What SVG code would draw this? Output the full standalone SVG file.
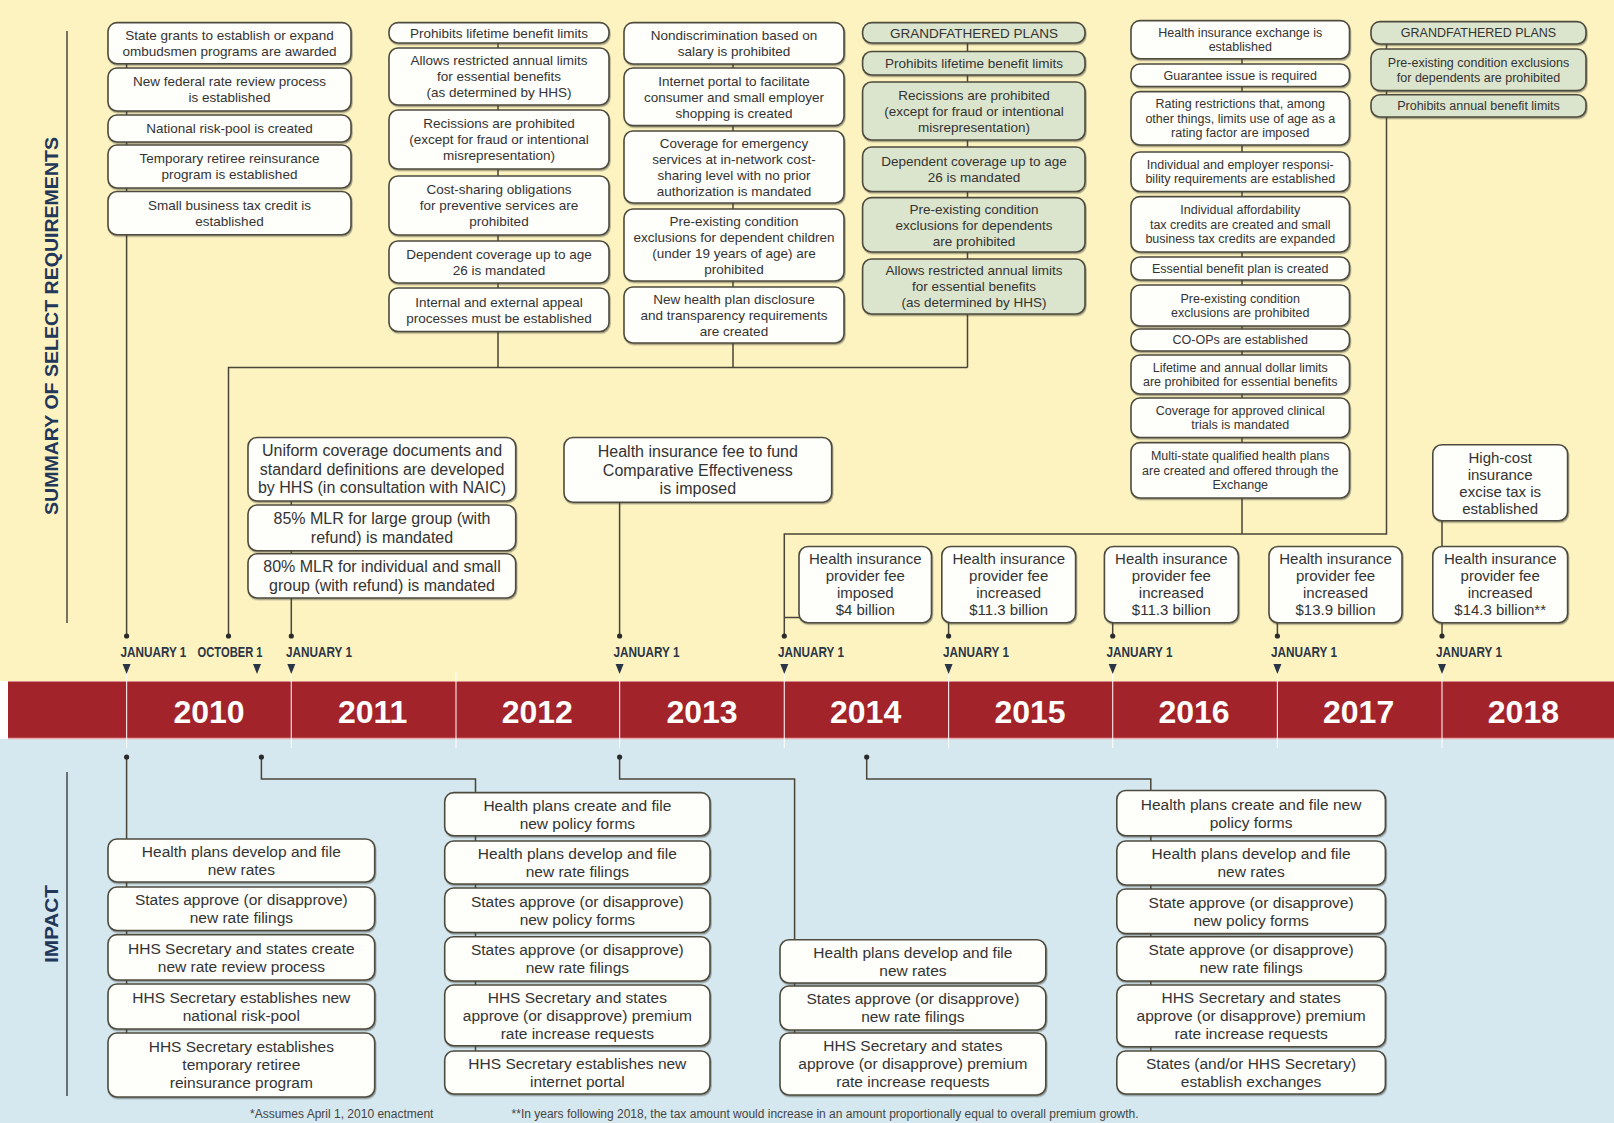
<svg xmlns="http://www.w3.org/2000/svg" width="1614" height="1123" viewBox="0 0 1614 1123">
<defs>
<filter id="sh" x="-5%" y="-10%" width="110%" height="125%">
<feDropShadow dx="0.8" dy="1.4" stdDeviation="0.7" flood-color="#3a3a30" flood-opacity="0.45"/>
</filter>
<style>
.bx{fill:#fefefb;stroke:#4e4b3e;stroke-width:1.6;filter:url(#sh)}
.gf{fill:#dbe4cc;stroke:#4e4b3e;stroke-width:1.6;filter:url(#sh)}
.t{font-family:"Liberation Sans Narrow","Liberation Sans",Arial,sans-serif;fill:#333333;text-anchor:middle}
.s13{font-size:13.5px}
.s12{font-size:12.5px}
.s16{font-size:16px}
.s15{font-size:15px}
.s155{font-size:15.5px}
.cn{fill:none;stroke:#4a4537;stroke-width:1.5}
.dot{fill:#2b2b2b}
.lbl{font-family:"Liberation Sans Narrow","Liberation Sans",Arial,sans-serif;font-weight:bold;font-size:14px;fill:#2b3645}
.arr{fill:#2a3648}
.yr{font-family:"Liberation Sans",Arial,sans-serif;font-weight:bold;font-size:32px;fill:#ffffff;text-anchor:middle}
.vt{font-family:"Liberation Sans",Arial,sans-serif;font-weight:bold;font-size:19px;fill:#22375a;text-anchor:middle}
.div{stroke:#ffffff;stroke-width:1.2;opacity:0.85}
.fn{font-family:"Liberation Sans Narrow","Liberation Sans",Arial,sans-serif;font-size:12px;fill:#444}
</style>
</defs>
<rect x="0" y="0" width="1614" height="681" fill="#fcf3c1"/>
<rect x="0" y="739" width="1614" height="384" fill="#d5e7ef"/>
<rect x="8" y="681" width="1606" height="58" fill="#a3232b"/>
<line x1="8" y1="681.5" x2="1614" y2="681.5" stroke="#d98a8a" stroke-width="1"/>
<line x1="8" y1="738.5" x2="1614" y2="738.5" stroke="#e9a9ad" stroke-width="1.5"/>
<g id="side-labels">
<line x1="67" y1="31" x2="67" y2="623" stroke="#2f2f2f" stroke-width="1.3"/>
<line x1="67" y1="772" x2="67" y2="1096" stroke="#2f2f2f" stroke-width="1.3"/>
<text class="vt" transform="translate(58,326) rotate(-90)" textLength="378" lengthAdjust="spacingAndGlyphs">SUMMARY OF SELECT REQUIREMENTS</text>
<text class="vt" transform="translate(58,924) rotate(-90)" textLength="78" lengthAdjust="spacingAndGlyphs">IMPACT</text>
</g>
<g id="year-band">
<line class="div" x1="126.6" y1="672" x2="126.6" y2="748"/>
<line class="div" x1="291.3" y1="672" x2="291.3" y2="748"/>
<line class="div" x1="456" y1="672" x2="456" y2="748"/>
<line class="div" x1="619.6" y1="672" x2="619.6" y2="748"/>
<line class="div" x1="784.3" y1="672" x2="784.3" y2="748"/>
<line class="div" x1="948.6" y1="672" x2="948.6" y2="748"/>
<line class="div" x1="1112.7" y1="672" x2="1112.7" y2="748"/>
<line class="div" x1="1277.4" y1="672" x2="1277.4" y2="748"/>
<line class="div" x1="1442" y1="672" x2="1442" y2="748"/>
<text class="yr" x="209" y="723">2010</text>
<text class="yr" x="372.6" y="723">2011</text>
<text class="yr" x="537.3" y="723">2012</text>
<text class="yr" x="702" y="723">2013</text>
<text class="yr" x="865.6" y="723">2014</text>
<text class="yr" x="1030" y="723">2015</text>
<text class="yr" x="1194" y="723">2016</text>
<text class="yr" x="1358.6" y="723">2017</text>
<text class="yr" x="1523.4" y="723">2018</text>
</g>
<g id="timeline-markers">
<text class="lbl" x="120.4" y="657" textLength="66" lengthAdjust="spacingAndGlyphs">JANUARY 1</text>
<text class="lbl" x="197.6" y="657" textLength="65" lengthAdjust="spacingAndGlyphs">OCTOBER 1</text>
<text class="lbl" x="286" y="657" textLength="66" lengthAdjust="spacingAndGlyphs">JANUARY 1</text>
<text class="lbl" x="613.5" y="657" textLength="66" lengthAdjust="spacingAndGlyphs">JANUARY 1</text>
<text class="lbl" x="778" y="657" textLength="66" lengthAdjust="spacingAndGlyphs">JANUARY 1</text>
<text class="lbl" x="943" y="657" textLength="66" lengthAdjust="spacingAndGlyphs">JANUARY 1</text>
<text class="lbl" x="1106.5" y="657" textLength="66" lengthAdjust="spacingAndGlyphs">JANUARY 1</text>
<text class="lbl" x="1271" y="657" textLength="66" lengthAdjust="spacingAndGlyphs">JANUARY 1</text>
<text class="lbl" x="1436" y="657" textLength="66" lengthAdjust="spacingAndGlyphs">JANUARY 1</text>
<polygon class="arr" points="122.6,664 130.6,664 126.6,674"/>
<polygon class="arr" points="253,664 261,664 257,674"/>
<polygon class="arr" points="287.3,664 295.3,664 291.3,674"/>
<polygon class="arr" points="615.6,664 623.6,664 619.6,674"/>
<polygon class="arr" points="780.3,664 788.3,664 784.3,674"/>
<polygon class="arr" points="944.6,664 952.6,664 948.6,674"/>
<polygon class="arr" points="1108.7,664 1116.7,664 1112.7,674"/>
<polygon class="arr" points="1273.4,664 1281.4,664 1277.4,674"/>
<polygon class="arr" points="1438,664 1446,664 1442,674"/>
</g>
<g id="connectors">
<path class="cn" d="M126.6,60 V636"/>
<path class="cn" d="M498,40 V367.5 M733,60 V367.5 M967.5,40 V367.5 M967.5,367.5 H228.5 V636"/>
<path class="cn" d="M291.3,500 V636"/>
<path class="cn" d="M619.6,502 V636"/>
<path class="cn" d="M1242,56 V534 M1386.5,42 V534 H784.3 V636 M784.3,617.6 H799"/>
<path class="cn" d="M948.6,622.7 V636 M1112.7,622.7 V636 M1277.4,622.7 V636 M1442,622.7 V636 M1442,520.8 V546.5"/>
<path class="cn" d="M126.6,757 V1040"/>
<path class="cn" d="M261.4,757 V779 H475.5 V1060"/>
<path class="cn" d="M619.6,757 V779 H794.6 V1040"/>
<path class="cn" d="M866.7,757 V779 H1150.8 V1060"/>
<circle class="dot" cx="126.6" cy="636" r="2.6"/>
<circle class="dot" cx="228.5" cy="636" r="2.6"/>
<circle class="dot" cx="291.3" cy="636" r="2.6"/>
<circle class="dot" cx="619.6" cy="636" r="2.6"/>
<circle class="dot" cx="784.3" cy="636" r="2.6"/>
<circle class="dot" cx="948.6" cy="636" r="2.6"/>
<circle class="dot" cx="1112.7" cy="636" r="2.6"/>
<circle class="dot" cx="1277.4" cy="636" r="2.6"/>
<circle class="dot" cx="1442" cy="636" r="2.6"/>
<circle class="dot" cx="126.6" cy="757" r="2.6"/>
<circle class="dot" cx="261.4" cy="757" r="2.6"/>
<circle class="dot" cx="619.6" cy="757" r="2.6"/>
<circle class="dot" cx="866.7" cy="757" r="2.6"/>
</g>
<g id="col-2010-jan">
<g id="a1"><rect class="bx" x="108" y="22.6" width="243" height="41.2" rx="9"/><text class="t s13"><tspan x="229.5" y="39.9">State grants to establish or expand</tspan><tspan x="229.5" y="55.9">ombudsmen programs are awarded</tspan></text></g>
<g id="a2"><rect class="bx" x="108" y="68" width="243" height="43" rx="9"/><text class="t s13"><tspan x="229.5" y="86.2">New federal rate review process</tspan><tspan x="229.5" y="102.2">is established</tspan></text></g>
<g id="a3"><rect class="bx" x="108" y="115" width="243" height="27" rx="9"/><text class="t s13"><tspan x="229.5" y="133.2">National risk-pool is created</tspan></text></g>
<g id="a4"><rect class="bx" x="108" y="145" width="243" height="43" rx="9"/><text class="t s13"><tspan x="229.5" y="163.2">Temporary retiree reinsurance</tspan><tspan x="229.5" y="179.2">program is established</tspan></text></g>
<g id="a5"><rect class="bx" x="108" y="191.5" width="243" height="43.2" rx="9"/><text class="t s13"><tspan x="229.5" y="209.8">Small business tax credit is</tspan><tspan x="229.5" y="225.8">established</tspan></text></g>
</g>
<g id="col-2010-oct">
<g id="b1"><rect class="bx" x="389" y="22.6" width="220" height="20.4" rx="9"/><text class="t s13"><tspan x="499" y="37.5">Prohibits lifetime benefit limits</tspan></text></g>
<g id="b2"><rect class="bx" x="389" y="48" width="220" height="57" rx="9"/><text class="t s13"><tspan x="499" y="65.2">Allows restricted annual limits</tspan><tspan x="499" y="81.2">for essential benefits</tspan><tspan x="499" y="97.2">(as determined by HHS)</tspan></text></g>
<g id="b3"><rect class="bx" x="389" y="110" width="220" height="59" rx="9"/><text class="t s13"><tspan x="499" y="128.2">Recissions are prohibited</tspan><tspan x="499" y="144.2">(except for fraud or intentional</tspan><tspan x="499" y="160.2">misrepresentation)</tspan></text></g>
<g id="b4"><rect class="bx" x="389" y="176" width="220" height="59" rx="9"/><text class="t s13"><tspan x="499" y="194.2">Cost-sharing obligations</tspan><tspan x="499" y="210.2">for preventive services are</tspan><tspan x="499" y="226.2">prohibited</tspan></text></g>
<g id="b5"><rect class="bx" x="389" y="241" width="220" height="42" rx="9"/><text class="t s13"><tspan x="499" y="258.7">Dependent coverage up to age</tspan><tspan x="499" y="274.7">26 is mandated</tspan></text></g>
<g id="b6"><rect class="bx" x="389" y="288" width="220" height="43.5" rx="9"/><text class="t s13"><tspan x="499" y="306.5">Internal and external appeal</tspan><tspan x="499" y="322.5">processes must be established</tspan></text></g>
</g>
<g id="col-2010-oct-b">
<g id="c1"><rect class="bx" x="624" y="22.6" width="220" height="41.4" rx="9"/><text class="t s13"><tspan x="734" y="40">Nondiscrimination based on</tspan><tspan x="734" y="56">salary is prohibited</tspan></text></g>
<g id="c2"><rect class="bx" x="624" y="68" width="220" height="57.6" rx="9"/><text class="t s13"><tspan x="734" y="85.5">Internet portal to facilitate</tspan><tspan x="734" y="101.5">consumer and small employer</tspan><tspan x="734" y="117.5">shopping is created</tspan></text></g>
<g id="c3"><rect class="bx" x="624" y="131" width="220" height="72" rx="9"/><text class="t s13"><tspan x="734" y="147.7">Coverage for emergency</tspan><tspan x="734" y="163.7">services at in-network cost-</tspan><tspan x="734" y="179.7">sharing level with no prior</tspan><tspan x="734" y="195.7">authorization is mandated</tspan></text></g>
<g id="c4"><rect class="bx" x="624" y="209" width="220" height="72" rx="9"/><text class="t s13"><tspan x="734" y="225.7">Pre-existing condition</tspan><tspan x="734" y="241.7">exclusions for dependent children</tspan><tspan x="734" y="257.7">(under 19 years of age) are</tspan><tspan x="734" y="273.7">prohibited</tspan></text></g>
<g id="c5"><rect class="bx" x="624" y="287" width="220" height="56" rx="9"/><text class="t s13"><tspan x="734" y="303.7">New health plan disclosure</tspan><tspan x="734" y="319.7">and transparency requirements</tspan><tspan x="734" y="335.7">are created</tspan></text></g>
</g>
<g id="col-2010-grandfathered">
<g id="d1"><rect class="gf" x="862.6" y="22.6" width="222.4" height="20.4" rx="9"/><text class="t s13"><tspan x="974" y="37.5">GRANDFATHERED PLANS</tspan></text></g>
<g id="d2"><rect class="gf" x="862.6" y="51.5" width="222.4" height="23.5" rx="9"/><text class="t s13"><tspan x="974" y="68">Prohibits lifetime benefit limits</tspan></text></g>
<g id="d3"><rect class="gf" x="862.6" y="82" width="222.4" height="58" rx="9"/><text class="t s13"><tspan x="974" y="99.7">Recissions are prohibited</tspan><tspan x="974" y="115.7">(except for fraud or intentional</tspan><tspan x="974" y="131.7">misrepresentation)</tspan></text></g>
<g id="d4"><rect class="gf" x="862.6" y="147" width="222.4" height="44.5" rx="9"/><text class="t s13"><tspan x="974" y="166">Dependent coverage up to age</tspan><tspan x="974" y="182">26 is mandated</tspan></text></g>
<g id="d5"><rect class="gf" x="862.6" y="197.6" width="222.4" height="54.4" rx="9"/><text class="t s13"><tspan x="974" y="213.5">Pre-existing condition</tspan><tspan x="974" y="229.5">exclusions for dependents</tspan><tspan x="974" y="245.5">are prohibited</tspan></text></g>
<g id="d6"><rect class="gf" x="862.6" y="259" width="222.4" height="55" rx="9"/><text class="t s13"><tspan x="974" y="275.2">Allows restricted annual limits</tspan><tspan x="974" y="291.2">for essential benefits</tspan><tspan x="974" y="307.2">(as determined by HHS)</tspan></text></g>
</g>
<g id="col-2014">
<g id="e1"><rect class="bx" x="1131" y="20.6" width="218.5" height="38.1" rx="9"/><text class="t s12"><tspan x="1240.25" y="36.8">Health insurance exchange is</tspan><tspan x="1240.25" y="51.3">established</tspan></text></g>
<g id="e2"><rect class="bx" x="1131" y="64" width="218.5" height="22.5" rx="9"/><text class="t s12"><tspan x="1240.25" y="79.65">Guarantee issue is required</tspan></text></g>
<g id="e3"><rect class="bx" x="1131" y="91.6" width="218.5" height="53.4" rx="9"/><text class="t s12"><tspan x="1240.25" y="108.2">Rating restrictions that, among</tspan><tspan x="1240.25" y="122.7">other things, limits use of age as a</tspan><tspan x="1240.25" y="137.2">rating factor are imposed</tspan></text></g>
<g id="e4"><rect class="bx" x="1131" y="152" width="218.5" height="39.5" rx="9"/><text class="t s12"><tspan x="1240.25" y="168.9">Individual and employer responsi-</tspan><tspan x="1240.25" y="183.4">bility requirements are established</tspan></text></g>
<g id="e5"><rect class="bx" x="1131" y="196.6" width="218.5" height="55.4" rx="9"/><text class="t s12"><tspan x="1240.25" y="214.2">Individual affordability</tspan><tspan x="1240.25" y="228.7">tax credits are created and small</tspan><tspan x="1240.25" y="243.2">business tax credits are expanded</tspan></text></g>
<g id="e6"><rect class="bx" x="1131" y="257" width="218.5" height="23" rx="9"/><text class="t s12"><tspan x="1240.25" y="272.9">Essential benefit plan is created</tspan></text></g>
<g id="e7"><rect class="bx" x="1131" y="285" width="218.5" height="41" rx="9"/><text class="t s12"><tspan x="1240.25" y="302.65">Pre-existing condition</tspan><tspan x="1240.25" y="317.15">exclusions are prohibited</tspan></text></g>
<g id="e8"><rect class="bx" x="1131" y="329" width="218.5" height="22" rx="9"/><text class="t s12"><tspan x="1240.25" y="344.4">CO-OPs are established</tspan></text></g>
<g id="e9"><rect class="bx" x="1131" y="355" width="218.5" height="39" rx="9"/><text class="t s12"><tspan x="1240.25" y="371.65">Lifetime and annual dollar limits</tspan><tspan x="1240.25" y="386.15">are prohibited for essential benefits</tspan></text></g>
<g id="e10"><rect class="bx" x="1131" y="398" width="218.5" height="39.5" rx="9"/><text class="t s12"><tspan x="1240.25" y="414.9">Coverage for approved clinical</tspan><tspan x="1240.25" y="429.4">trials is mandated</tspan></text></g>
<g id="e11"><rect class="bx" x="1131" y="442.6" width="218.5" height="55.4" rx="9"/><text class="t s12"><tspan x="1240.25" y="460.2">Multi-state qualified health plans</tspan><tspan x="1240.25" y="474.7">are created and offered through the</tspan><tspan x="1240.25" y="489.2">Exchange</tspan></text></g>
</g>
<g id="col-2014-grandfathered">
<g id="f1"><rect class="gf" x="1371" y="21.6" width="215" height="22.4" rx="9"/><text class="t s12"><tspan x="1478.5" y="37.2">GRANDFATHERED PLANS</tspan></text></g>
<g id="f2"><rect class="gf" x="1371" y="49" width="215" height="41.6" rx="9"/><text class="t s12"><tspan x="1478.5" y="67">Pre-existing condition exclusions</tspan><tspan x="1478.5" y="81.5">for dependents are prohibited</tspan></text></g>
<g id="f3"><rect class="gf" x="1371" y="94.7" width="215" height="22.3" rx="9"/><text class="t s12"><tspan x="1478.5" y="110.25">Prohibits annual benefit limits</tspan></text></g>
</g>
<g id="col-2011">
<g id="i1"><rect class="bx" x="248" y="437.5" width="267.7" height="63.5" rx="9"/><text class="t s16"><tspan x="382" y="456.35">Uniform coverage documents and</tspan><tspan x="382" y="474.85">standard definitions are developed</tspan><tspan x="382" y="493.35">by HHS (in consultation with NAIC)</tspan></text></g>
<g id="i2"><rect class="bx" x="248" y="505" width="267.7" height="45.7" rx="9"/><text class="t s16"><tspan x="382" y="524.2">85% MLR for large group (with</tspan><tspan x="382" y="542.7">refund) is mandated</tspan></text></g>
<g id="i3"><rect class="bx" x="248" y="553.8" width="267.7" height="44.2" rx="9"/><text class="t s16"><tspan x="382" y="572.25">80% MLR for individual and small</tspan><tspan x="382" y="590.75">group (with refund) is mandated</tspan></text></g>
</g>
<g id="col-2013">
<g id="j1"><rect class="bx" x="564" y="437.5" width="267.7" height="64.8" rx="9"/><text class="t s16"><tspan x="697.85" y="457">Health insurance fee to fund</tspan><tspan x="697.85" y="475.5">Comparative Effectiveness</tspan><tspan x="697.85" y="494">is imposed</tspan></text></g>
</g>
<g id="provider-fees">
<g id="g1"><rect class="bx" x="799" y="546.5" width="132.5" height="76.2" rx="9"/><text class="t s15"><tspan x="865.25" y="564.35">Health insurance</tspan><tspan x="865.25" y="581.35">provider fee</tspan><tspan x="865.25" y="598.35">imposed</tspan><tspan x="865.25" y="615.35">$4 billion</tspan></text></g>
<g id="g2"><rect class="bx" x="941.8" y="546.5" width="133.8" height="76.2" rx="9"/><text class="t s15"><tspan x="1008.7" y="564.35">Health insurance</tspan><tspan x="1008.7" y="581.35">provider fee</tspan><tspan x="1008.7" y="598.35">increased</tspan><tspan x="1008.7" y="615.35">$11.3 billion</tspan></text></g>
<g id="g3"><rect class="bx" x="1104.4" y="546.5" width="133.9" height="76.2" rx="9"/><text class="t s15"><tspan x="1171.35" y="564.35">Health insurance</tspan><tspan x="1171.35" y="581.35">provider fee</tspan><tspan x="1171.35" y="598.35">increased</tspan><tspan x="1171.35" y="615.35">$11.3 billion</tspan></text></g>
<g id="g4"><rect class="bx" x="1269" y="546.5" width="133" height="76.2" rx="9"/><text class="t s15"><tspan x="1335.5" y="564.35">Health insurance</tspan><tspan x="1335.5" y="581.35">provider fee</tspan><tspan x="1335.5" y="598.35">increased</tspan><tspan x="1335.5" y="615.35">$13.9 billion</tspan></text></g>
<g id="g5"><rect class="bx" x="1432.8" y="546.5" width="134.8" height="76.2" rx="9"/><text class="t s15"><tspan x="1500.2" y="564.35">Health insurance</tspan><tspan x="1500.2" y="581.35">provider fee</tspan><tspan x="1500.2" y="598.35">increased</tspan><tspan x="1500.2" y="615.35">$14.3 billion**</tspan></text></g>
<g id="h1"><rect class="bx" x="1432.8" y="444.7" width="134.8" height="76.1" rx="9"/><text class="t s15"><tspan x="1500.2" y="462.5">High-cost</tspan><tspan x="1500.2" y="479.5">insurance</tspan><tspan x="1500.2" y="496.5">excise tax is</tspan><tspan x="1500.2" y="513.5">established</tspan></text></g>
</g>
<g id="impact-2010-jan">
<g id="k1"><rect class="bx" x="108" y="839" width="266.7" height="43" rx="9"/><text class="t s155"><tspan x="241.35" y="856.9">Health plans develop and file</tspan><tspan x="241.35" y="874.9">new rates</tspan></text></g>
<g id="k2"><rect class="bx" x="108" y="887" width="266.7" height="43.5" rx="9"/><text class="t s155"><tspan x="241.35" y="905.15">States approve (or disapprove)</tspan><tspan x="241.35" y="923.15">new rate filings</tspan></text></g>
<g id="k3"><rect class="bx" x="108" y="934.6" width="266.7" height="45.4" rx="9"/><text class="t s155"><tspan x="241.35" y="953.7">HHS Secretary and states create</tspan><tspan x="241.35" y="971.7">new rate review process</tspan></text></g>
<g id="k4"><rect class="bx" x="108" y="984" width="266.7" height="45" rx="9"/><text class="t s155"><tspan x="241.35" y="1002.9">HHS Secretary establishes new</tspan><tspan x="241.35" y="1020.9">national risk-pool</tspan></text></g>
<g id="k5"><rect class="bx" x="108" y="1033" width="266.7" height="64" rx="9"/><text class="t s155"><tspan x="241.35" y="1052.4">HHS Secretary establishes</tspan><tspan x="241.35" y="1070.4">temporary retiree</tspan><tspan x="241.35" y="1088.4">reinsurance program</tspan></text></g>
</g>
<g id="impact-2010-oct">
<g id="l1"><rect class="bx" x="444.7" y="792.6" width="265.3" height="43.2" rx="9"/><text class="t s155"><tspan x="577.35" y="810.6">Health plans create and file</tspan><tspan x="577.35" y="828.6">new policy forms</tspan></text></g>
<g id="l2"><rect class="bx" x="444.7" y="841" width="265.3" height="43" rx="9"/><text class="t s155"><tspan x="577.35" y="858.9">Health plans develop and file</tspan><tspan x="577.35" y="876.9">new rate filings</tspan></text></g>
<g id="l3"><rect class="bx" x="444.7" y="888" width="265.3" height="44.5" rx="9"/><text class="t s155"><tspan x="577.35" y="906.65">States approve (or disapprove)</tspan><tspan x="577.35" y="924.65">new policy forms</tspan></text></g>
<g id="l4"><rect class="bx" x="444.7" y="936.7" width="265.3" height="44.3" rx="9"/><text class="t s155"><tspan x="577.35" y="955.25">States approve (or disapprove)</tspan><tspan x="577.35" y="973.25">new rate filings</tspan></text></g>
<g id="l5"><rect class="bx" x="444.7" y="985" width="265.3" height="60.8" rx="9"/><text class="t s155"><tspan x="577.35" y="1002.8">HHS Secretary and states</tspan><tspan x="577.35" y="1020.8">approve (or disapprove) premium</tspan><tspan x="577.35" y="1038.8">rate increase requests</tspan></text></g>
<g id="l6"><rect class="bx" x="444.7" y="1051" width="265.3" height="43" rx="9"/><text class="t s155"><tspan x="577.35" y="1068.9">HHS Secretary establishes new</tspan><tspan x="577.35" y="1086.9">internet portal</tspan></text></g>
</g>
<g id="impact-2013">
<g id="m1"><rect class="bx" x="780" y="939.7" width="265.8" height="43.3" rx="9"/><text class="t s155"><tspan x="912.9" y="957.75">Health plans develop and file</tspan><tspan x="912.9" y="975.75">new rates</tspan></text></g>
<g id="m2"><rect class="bx" x="780" y="986" width="265.8" height="44" rx="9"/><text class="t s155"><tspan x="912.9" y="1004.4">States approve (or disapprove)</tspan><tspan x="912.9" y="1022.4">new rate filings</tspan></text></g>
<g id="m3"><rect class="bx" x="780" y="1033" width="265.8" height="62" rx="9"/><text class="t s155"><tspan x="912.9" y="1051.4">HHS Secretary and states</tspan><tspan x="912.9" y="1069.4">approve (or disapprove) premium</tspan><tspan x="912.9" y="1087.4">rate increase requests</tspan></text></g>
</g>
<g id="impact-2014">
<g id="n1"><rect class="bx" x="1116.8" y="790.5" width="268.6" height="45.3" rx="9"/><text class="t s155"><tspan x="1251.1" y="809.55">Health plans create and file new</tspan><tspan x="1251.1" y="827.55">policy forms</tspan></text></g>
<g id="n2"><rect class="bx" x="1116.8" y="841" width="268.6" height="44" rx="9"/><text class="t s155"><tspan x="1251.1" y="859.4">Health plans develop and file</tspan><tspan x="1251.1" y="877.4">new rates</tspan></text></g>
<g id="n3"><rect class="bx" x="1116.8" y="889" width="268.6" height="44.6" rx="9"/><text class="t s155"><tspan x="1251.1" y="907.7">State approve (or disapprove)</tspan><tspan x="1251.1" y="925.7">new policy forms</tspan></text></g>
<g id="n4"><rect class="bx" x="1116.8" y="936.7" width="268.6" height="44.3" rx="9"/><text class="t s155"><tspan x="1251.1" y="955.25">State approve (or disapprove)</tspan><tspan x="1251.1" y="973.25">new rate filings</tspan></text></g>
<g id="n5"><rect class="bx" x="1116.8" y="985" width="268.6" height="61.8" rx="9"/><text class="t s155"><tspan x="1251.1" y="1003.3">HHS Secretary and states</tspan><tspan x="1251.1" y="1021.3">approve (or disapprove) premium</tspan><tspan x="1251.1" y="1039.3">rate increase requests</tspan></text></g>
<g id="n6"><rect class="bx" x="1116.8" y="1051" width="268.6" height="43" rx="9"/><text class="t s155"><tspan x="1251.1" y="1068.9">States (and/or HHS Secretary)</tspan><tspan x="1251.1" y="1086.9">establish exchanges</tspan></text></g>
</g>
<g id="footnotes">
<text class="fn" x="250" y="1118">*Assumes April 1, 2010 enactment</text>
<text class="fn" x="511.6" y="1118">**In years following 2018, the tax amount would increase in an amount proportionally equal to overall premium growth.</text>
</g>
</svg>
